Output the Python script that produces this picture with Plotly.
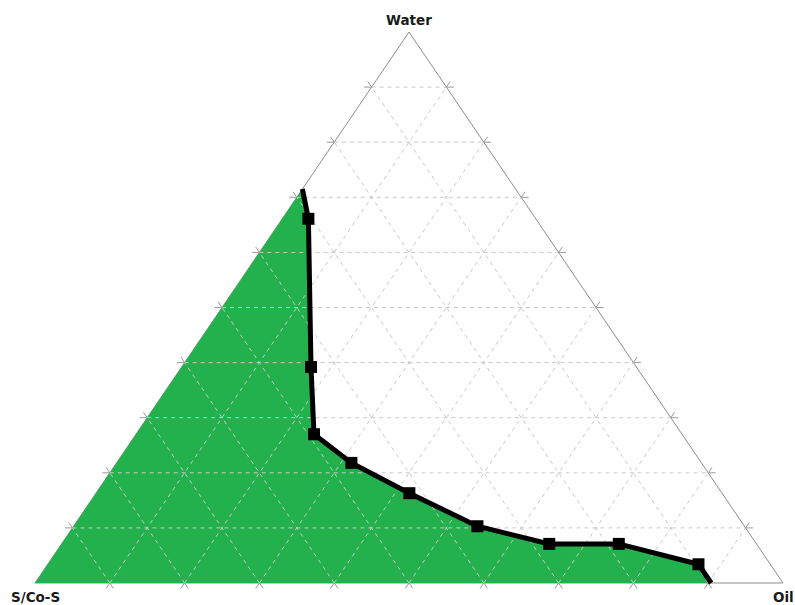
import plotly.graph_objects as go

# Phase boundary compositions (%), read along the curve from the Water-rich end
water = [71.5, 66.1, 39.2, 27.0, 21.8, 16.3, 10.3, 7.1, 7.1, 3.4, 0.0]
oil = [0.0, 3.5, 17.3, 23.8, 31.4, 41.9, 54.0, 65.2, 74.5, 87.0, 90.4]
surfactant = [100.0 - w - o for w, o in zip(water, oil)]

# Grid divisions (%) on each side of the triangle
grid_ticks = [10, 20, 30, 40, 50, 60, 70, 80, 90]

apex_labels = {"Water": (100, 0), "S/Co-S": (0, 0), "Oil": (0, 100)}


def to_xy(w, o):
    """Map a (water %, oil %) composition onto the plane of the triangle."""
    w, o = w / 100.0, o / 100.0
    return o + w / 2.0, w


def segment_trace(segs, **line):
    xs, ys = [], []
    for (w0, o0), (w1, o1) in segs:
        x0, y0 = to_xy(w0, o0)
        x1, y1 = to_xy(w1, o1)
        xs += [x0, x1, None]
        ys += [y0, y1, None]
    return go.Scatter(x=xs, y=ys, mode="lines", line=line,
                      hoverinfo="skip", showlegend=False)


# Grid lines (constant water, oil, S/Co-S) and the short ticks that
# continue each of them just past the edge of the triangle
ext = 1.0  # tick length beyond the edge, in %
grid, ticks = [], []
for t in grid_ticks:
    grid.append(((t, 0), (t, 100 - t)))
    ticks.append(((t, 0), (t, -ext)))
    ticks.append(((t, 100 - t), (t, 100 - t + ext)))

    grid.append(((0, t), (100 - t, t)))
    ticks.append(((0, t), (-ext, t)))
    ticks.append(((100 - t, t), (100 - t + ext, t)))

    grid.append(((0, 100 - t), (100 - t, 0)))
    ticks.append(((0, 100 - t), (-ext, 100 - t + ext)))
    ticks.append(((100 - t, 0), (100 - t + ext, -ext)))

outline = [((100, 0), (0, 0)), ((0, 0), (0, 100)), ((0, 100), (100, 0))]

fig = go.Figure()

fig.add_trace(segment_trace(outline, color="#8c8c8c", width=1))

# Single-phase region below the boundary curve
fill_w = water + [0.0, water[0]]
fill_o = oil + [0.0, oil[0]]
fx, fy = zip(*[to_xy(w, o) for w, o in zip(fill_w, fill_o)])
fig.add_trace(go.Scatter(x=list(fx), y=list(fy), mode="lines", fill="toself",
                         fillcolor="#22b14c", line=dict(width=0),
                         hoverinfo="skip", showlegend=False))

fig.add_trace(segment_trace(grid, color="#c8c8c8", width=1, dash="4px,4px"))
fig.add_trace(segment_trace(ticks, color="#999999", width=1))

bx, by = zip(*[to_xy(w, o) for w, o in zip(water, oil)])
fig.add_trace(go.Scatter(x=list(bx), y=list(by), mode="lines",
                         line=dict(color="black", width=5),
                         customdata=surfactant, showlegend=False))
fig.add_trace(go.Scatter(x=list(bx[1:-1]), y=list(by[1:-1]), mode="markers",
                         marker=dict(symbol="square", size=12, color="black"),
                         showlegend=False))

shifts = {"Water": 12, "S/Co-S": -14, "Oil": -14}
for name, (w, o) in apex_labels.items():
    ax, ay = to_xy(w, o)
    fig.add_annotation(x=ax, y=ay, text=f"<b>{name}</b>", showarrow=False,
                       xanchor="center", yanchor="middle", yshift=shifts[name],
                       font=dict(family="DejaVu Sans", size=13.5, color="#1a1a1a"))

fig.update_layout(
    width=795, height=605,
    margin=dict(l=0, r=0, t=0, b=0),
    paper_bgcolor="white", plot_bgcolor="white",
    xaxis=dict(visible=False, range=[-35 / 748, 760 / 748], fixedrange=True),
    yaxis=dict(visible=False, range=[-22 / 551, 583 / 551], fixedrange=True),
)

fig.write_html("out.html")
